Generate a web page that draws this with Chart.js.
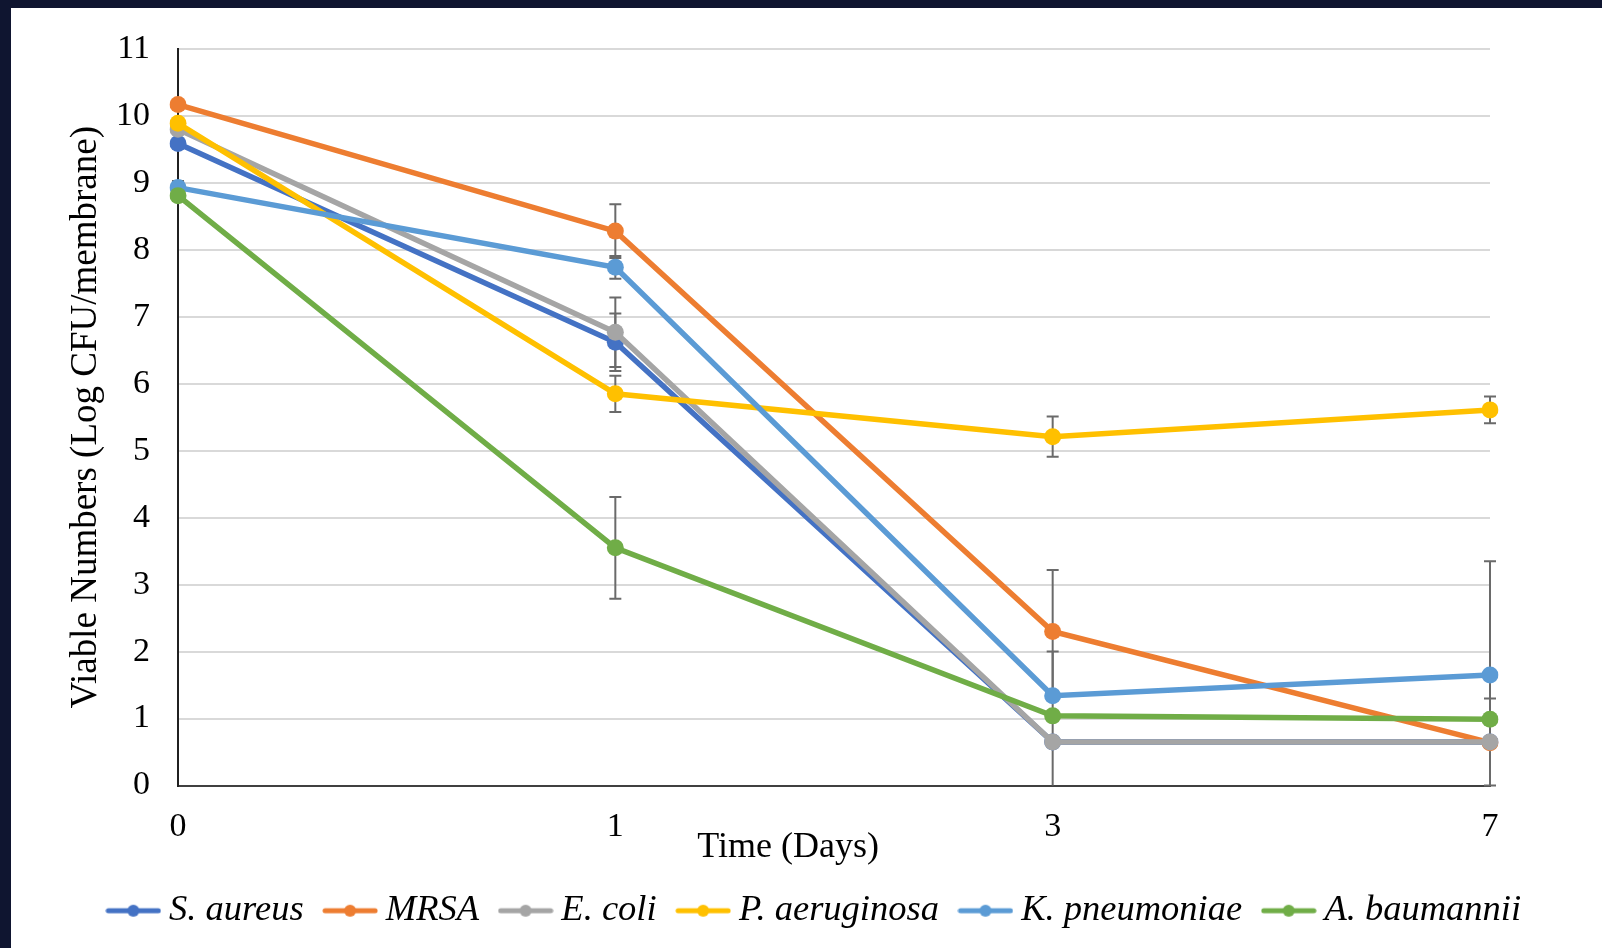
<!DOCTYPE html>
<html>
<head>
<meta charset="utf-8">
<script src="https://cdn.jsdelivr.net/npm/chart.js@4.4.0/dist/chart.umd.min.js"></script>
<style>
    html, body { margin: 0; padding: 0; background: #0f1530; width: 1602px; height: 948px; overflow: hidden; }
    #wrap { position: absolute; left: 11px; top: 8px; width: 1591px; height: 940px; background: #ffffff; }
</style>
</head>
<body>
<div id="wrap"><canvas id="chart" width="1591" height="940"></canvas></div>
<script>
// Days (categories on the x axis)
const days = ['0', '1', '3', '7'];
const yTicks = [0, 1, 2, 3, 4, 5, 6, 7, 8, 9, 10, 11];

// Mean viable numbers, Log CFU/membrane
const sAureus     = [9.59, 6.62, 0.65, 0.65];
const mrsa        = [10.17, 8.28, 2.30, 0.64];
const eColi       = [9.80, 6.77, 0.65, 0.65];
const pAeruginosa = [9.89, 5.85, 5.21, 5.61];
const kPneumoniae = [8.93, 7.74, 1.34, 1.65];
const aBaumannii  = [8.81, 3.55, 1.04, 0.99];

// Error bar half lengths (0 = not drawn)
const sAureusErr     = [0, 0.43, 0, 0.65];
const mrsaErr        = [0, 0.40, 0.92, 0];
const eColiErr       = [0, 0.52, 1.35, 2.70];
const pAeruginosaErr = [0, 0.27, 0.30, 0.20];
const kPneumoniaeErr = [0.10, 0.17, 0, 0];
const aBaumanniiErr  = [0, 0.76, 0, 0];

const seriesNames = ['S. aureus', 'MRSA', 'E. coli', 'P. aeruginosa', 'K. pneumoniae', 'A. baumannii'];
const seriesValues = [sAureus, mrsa, eColi, pAeruginosa, kPneumoniae, aBaumannii];
const seriesErrors = [sAureusErr, mrsaErr, eColiErr, pAeruginosaErr, kPneumoniaeErr, aBaumanniiErr];
const seriesColors = ['#4472c4', '#ed7d31', '#a5a5a5', '#ffc000', '#5b9bd5', '#70ad47'];

const serif = '"Liberation Serif", "Times New Roman", serif';

// little line + dot image for the legend
function legendMarker(color) {
    const c = document.createElement('canvas');
    c.width = 56;
    c.height = 14;
    const ctx = c.getContext('2d');
    ctx.strokeStyle = color;
    ctx.lineWidth = 5;
    ctx.lineCap = 'round';
    ctx.beginPath();
    ctx.moveTo(3, 7);
    ctx.lineTo(53, 7);
    ctx.stroke();
    ctx.fillStyle = color;
    ctx.beginPath();
    ctx.arc(28, 7, 6, 0, Math.PI * 2);
    ctx.fill();
    return c;
}

const errorBars = {
    id: 'errorBars',
    beforeDatasetsDraw(chart) {
        const ctx = chart.ctx;
        const y = chart.scales.y;
        const area = chart.chartArea;
        ctx.save();
        ctx.strokeStyle = '#6a6a6a';
        ctx.lineWidth = 2;
        chart.data.datasets.forEach((ds, i) => {
            const meta = chart.getDatasetMeta(i);
            ds.errors.forEach((e, j) => {
                if (!e) return;
                const x = meta.data[j].x;
                const v = ds.data[j];
                let top = y.getPixelForValue(v + e);
                let bot = y.getPixelForValue(v - e);
                const botClipped = bot > area.bottom;
                top = Math.max(top, area.top);
                bot = Math.min(bot, area.bottom);
                ctx.beginPath();
                ctx.moveTo(x, top);
                ctx.lineTo(x, bot);
                ctx.moveTo(x - 6, top);
                ctx.lineTo(x + 6, top);
                if (!botClipped) {
                    ctx.moveTo(x - 6, bot);
                    ctx.lineTo(x + 6, bot);
                }
                ctx.stroke();
            });
        });
        ctx.restore();
    }
};

const xTitle = {
    id: 'xTitle',
    afterDraw(chart) {
        const ctx = chart.ctx;
        const area = chart.chartArea;
        ctx.save();
        ctx.font = '36px ' + serif;
        ctx.fillStyle = '#000';
        ctx.textAlign = 'center';
        ctx.textBaseline = 'middle';
        ctx.fillText('Time (Days)', area.left + (area.right - area.left) * 0.465, area.bottom + 62);
        ctx.restore();
    }
};

// the legend sits a little right of centre in the original
const legendShift = {
    id: 'legendShift',
    afterLayout(chart) {
        chart.legend.left += 68;
        chart.legend.right += 68;
    }
};

const datasets = seriesNames.map((name, i) => ({
    label: name,
    data: seriesValues[i],
    errors: seriesErrors[i],
    borderColor: seriesColors[i],
    backgroundColor: seriesColors[i],
    borderWidth: 5.5,
    pointRadius: 8.5,
    pointHoverRadius: 8.5,
    pointBorderWidth: 0,
    tension: 0,
    order: seriesNames.length - 1 - i
}));

const ctx = document.getElementById('chart').getContext('2d');
new Chart(ctx, {
    type: 'line',
    data: { labels: days, datasets: datasets },
    options: {
        responsive: false,
        animation: false,
        layout: { padding: { top: 41, right: 112, left: 0, bottom: 9 } },
        scales: {
            x: {
                offset: false,
                grid: { display: false, drawTicks: false },
                border: { color: '#404040', width: 2 },
                ticks: { color: '#000', font: { family: serif, size: 34 }, padding: 21, maxRotation: 0 },
                afterFit(scale) { scale.height = 78; }
            },
            y: {
                min: 0,
                max: 11,
                afterBuildTicks(scale) { scale.ticks = yTicks.map(v => ({ value: v })); },
                grid: { color: '#d9d9d9', lineWidth: 2, drawTicks: true, tickLength: 26, tickColor: 'rgba(0,0,0,0)' },
                border: { color: '#202020', width: 2 },
                ticks: { color: '#000', font: { family: serif, size: 34 }, padding: 2 },
                title: {
                    display: true,
                    text: 'Viable Numbers (Log CFU/membrane)',
                    color: '#000',
                    font: { family: serif, size: 37 },
                    padding: { top: 53, bottom: 0 }
                },
                afterFit(scale) { scale.width = 167; }
            }
        },
        plugins: {
            legend: {
                position: 'bottom',
                labels: {
                    color: '#000',
                    font: { family: serif, size: 36.5, style: 'italic' },
                    usePointStyle: true,
                    pointStyleWidth: 35,
                    padding: 29,
                    generateLabels(chart) {
                        return chart.data.datasets.map((ds, i) => ({
                            text: ds.label,
                            fillStyle: ds.borderColor,
                            strokeStyle: ds.borderColor,
                            lineWidth: 0,
                            pointStyle: legendMarker(ds.borderColor),
                            hidden: false,
                            datasetIndex: i,
                            fontColor: '#000'
                        }));
                    }
                }
            },
            tooltip: { enabled: false }
        }
    },
    plugins: [errorBars, xTitle, legendShift]
});
</script>
</body>
</html>
